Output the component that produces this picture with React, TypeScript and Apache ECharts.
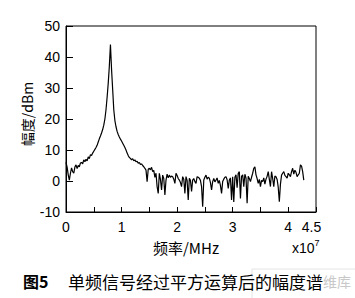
import React, { useEffect, useRef } from "react";
import * as echarts from "echarts";

// Frequency sample step (units of 1e7 Hz)
const FREQ_STEP = 0.02;
// Amplitude spectrum (dBm) sampled every FREQ_STEP from 0
const amplitudes: number[] = [
  6, 4.5, 2, 0.3, 2.5, 4.2, 3, 2.5, 4.5, 5.2,
  4, 5, 4.6, 5.8, 6, 5.5, 6.8, 6.2, 7, 6.5,
  7.8, 7.2, 8.5, 8.2, 9, 9.6, 10.2, 10.8, 11.5, 12.6,
  13.6, 14.5, 15.5, 16.6, 18, 20, 23, 27, 31.5, 37,
  44, 36, 29.5, 23, 19.5, 17.5, 16, 15, 14.2, 13.5,
  12.9, 12.2, 11.5, 10.8, 10, 9, 8.2, 7.6, 7.3, 6.8,
  7.2, 6.5, 6.8, 6.2, 6.4, 5.7, 6, 5.3, 5.5, 5,
  4.6, 4.1, 3.5, -0.2, 3.8, 4.1, 3.6, 4.4, 3, 3.4,
  1.2, 2.5, -1.8, -4, 2.5, 0.5, -2.9, 1.9, 0.8, -4.5,
  0.3, 2.2, 1, 1.9, 1.2, 1.6, 1.4, 0.6, -0.75, 2.5,
  1.8, 0.8, 0.3, -0.5, -1.8, 1.4, 0.6, -4, 1.4, 0.2,
  -6.1, 0.9, 0.2, -3.4, 0.3, 0.8, -0.2, -0.75, 1.4, 1.2,
  0.9, 0.2, -1.8, -8.3, 0.3, 1.2, 1.9, 0.6, 1.2, 0.9,
  -0.5, -2.9, -0.2, 0.8, -0.3, 0.3, 1, -0.75, 0.2, -1.5,
  -4, -0.2, 0.6, 1.2, 1.4, 0.4, -2.4, 0.3, 1, -6.1,
  1.4, -6.8, 1.2, 2, -2.2, 2.5, 3, -5.6, 1.5, 2,
  -1.8, 2.2, 1, -7.2, 1.5, 0.8, -0.2, 1.2, 2.5, 4.1,
  4.6, 2, 0.8, -0.75, 0.5, -1.8, 0.2, -0.2, 1, -1,
  0.6, 1.5, 3, 0.5, -1.8, 3, 0.8, -1.8, 1.6, 1.4,
  0.5, -2, -6.7, -1, 1.9, 2.5, 3, 1.8, 1.4, 0.9,
  2.5, 2, 1.4, 3, 4.1, 2.2, 3.5, 2.8, 1.4, 2,
  2.5, 5.2, 4.8, 3, 0.3,
];

const X_MIN = 0;
const X_MAX = 4.5;
const X_TICK = 0.5;
const X_LABELS = ["0", "1", "2", "3", "4", "4.5"];
const Y_MIN = -10;
const Y_MAX = 50;
const Y_TICK = 10;

const Y_NAME = "幅度/dBm";
const X_NAME = "频率/MHz";
const CAPTION_NUM = "图5";
const CAPTION = "单频信号经过平方运算后的幅度谱";

const FONT = "'Liberation Sans', Arial, sans-serif";
const CJK = "'Noto Sans CJK SC', 'Liberation Sans', sans-serif";

export default function App() {
  const ref = useRef<HTMLDivElement>(null);
  useEffect(() => {
    if (!ref.current) return;
    const chart = echarts.init(ref.current, null, { renderer: "svg" });
    const seriesData = amplitudes.map((v, i) => [+(i * FREQ_STEP).toFixed(2), v]);
    chart.setOption({
      animation: false,
      backgroundColor: "#fff",
      grid: {
        left: 66,
        right: 39,
        top: 26,
        bottom: 86,
        show: true,
        borderColor: "#000",
        borderWidth: 1,
        backgroundColor: "transparent",
      },
      xAxis: {
        type: "value",
        min: X_MIN,
        max: X_MAX,
        interval: X_TICK,
        axisLine: { show: true, onZero: false, lineStyle: { color: "#000", width: 1 } },
        axisTick: { show: true, inside: true, length: 5, lineStyle: { color: "#000" } },
        splitLine: { show: false },
        axisLabel: {
          color: "#000",
          fontFamily: FONT,
          fontSize: 14,
          margin: 8,
          formatter: (v: number) => {
            const s = String(+v.toFixed(2));
            if (!X_LABELS.includes(s)) return "";
            return s === "4.5" ? "{b|" + s + "}" : s;
          },
          rich: {
            b: { fontFamily: FONT, fontSize: 14, color: "#000", padding: [0, 9, 0, 0] },
          },
        },
      },
      yAxis: {
        type: "value",
        min: Y_MIN,
        max: Y_MAX,
        interval: Y_TICK,
        axisLine: { show: true, onZero: false, lineStyle: { color: "#000", width: 1 } },
        axisTick: { show: true, inside: true, length: 7, lineStyle: { color: "#000" } },
        splitLine: { show: false },
        axisLabel: { color: "#000", fontFamily: FONT, fontSize: 14, margin: 6 },
      },
      series: [
        {
          type: "line",
          data: seriesData,
          showSymbol: false,
          symbol: "none",
          lineStyle: { color: "#000", width: 1.2 },
          z: 3,
        },
      ],
      graphic: [
        {
          type: "text",
          x: 27,
          y: 114,
          rotation: Math.PI / 2,
          style: {
            text: Y_NAME,
            fontFamily: CJK,
            fontSize: 14,
            fill: "#000",
            align: "center",
            verticalAlign: "middle",
          },
        },
        {
          type: "text",
          x: 186,
          y: 247,
          style: {
            text: X_NAME,
            fontFamily: CJK,
            fontSize: 15,
            fill: "#000",
            align: "center",
            verticalAlign: "middle",
          },
        },
        {
          type: "text",
          x: 292,
          y: 248,
          style: {
            text: "x10{s|7}",
            fontFamily: FONT,
            fontSize: 14,
            fill: "#000",
            align: "left",
            verticalAlign: "middle",
            rich: { s: { fontFamily: FONT, fontSize: 9, fill: "#000", verticalAlign: "top", padding: [0, 0, 10, 0] } },
          },
        },
        {
          type: "rect",
          shape: { x: 252, y: 269, width: 110, height: 35 },
          style: { fill: "none", stroke: "#e4e4e4", lineWidth: 1 },
        },
        {
          type: "text",
          x: 23,
          y: 281,
          style: {
            text: CAPTION_NUM,
            fontFamily: CJK,
            fontSize: 16,
            fontWeight: "bold",
            fill: "#000",
            align: "left",
            verticalAlign: "middle",
          },
        },
        {
          type: "text",
          x: 68,
          y: 281,
          style: {
            text: CAPTION,
            fontFamily: CJK,
            fontSize: 17,
            fill: "#000",
            align: "left",
            verticalAlign: "middle",
          },
        },
        {
          type: "text",
          x: 323,
          y: 281,
          style: {
            text: "维库",
            fontFamily: CJK,
            fontSize: 14,
            fill: "#c8c8c8",
            align: "left",
            verticalAlign: "middle",
          },
        },
      ],
    });
    return () => chart.dispose();
  }, []);
  return (
    <div
      ref={ref}
      style={{ position: "fixed", left: 0, top: 0, width: 355, height: 298, background: "#fff" }}
    />
  );
}
